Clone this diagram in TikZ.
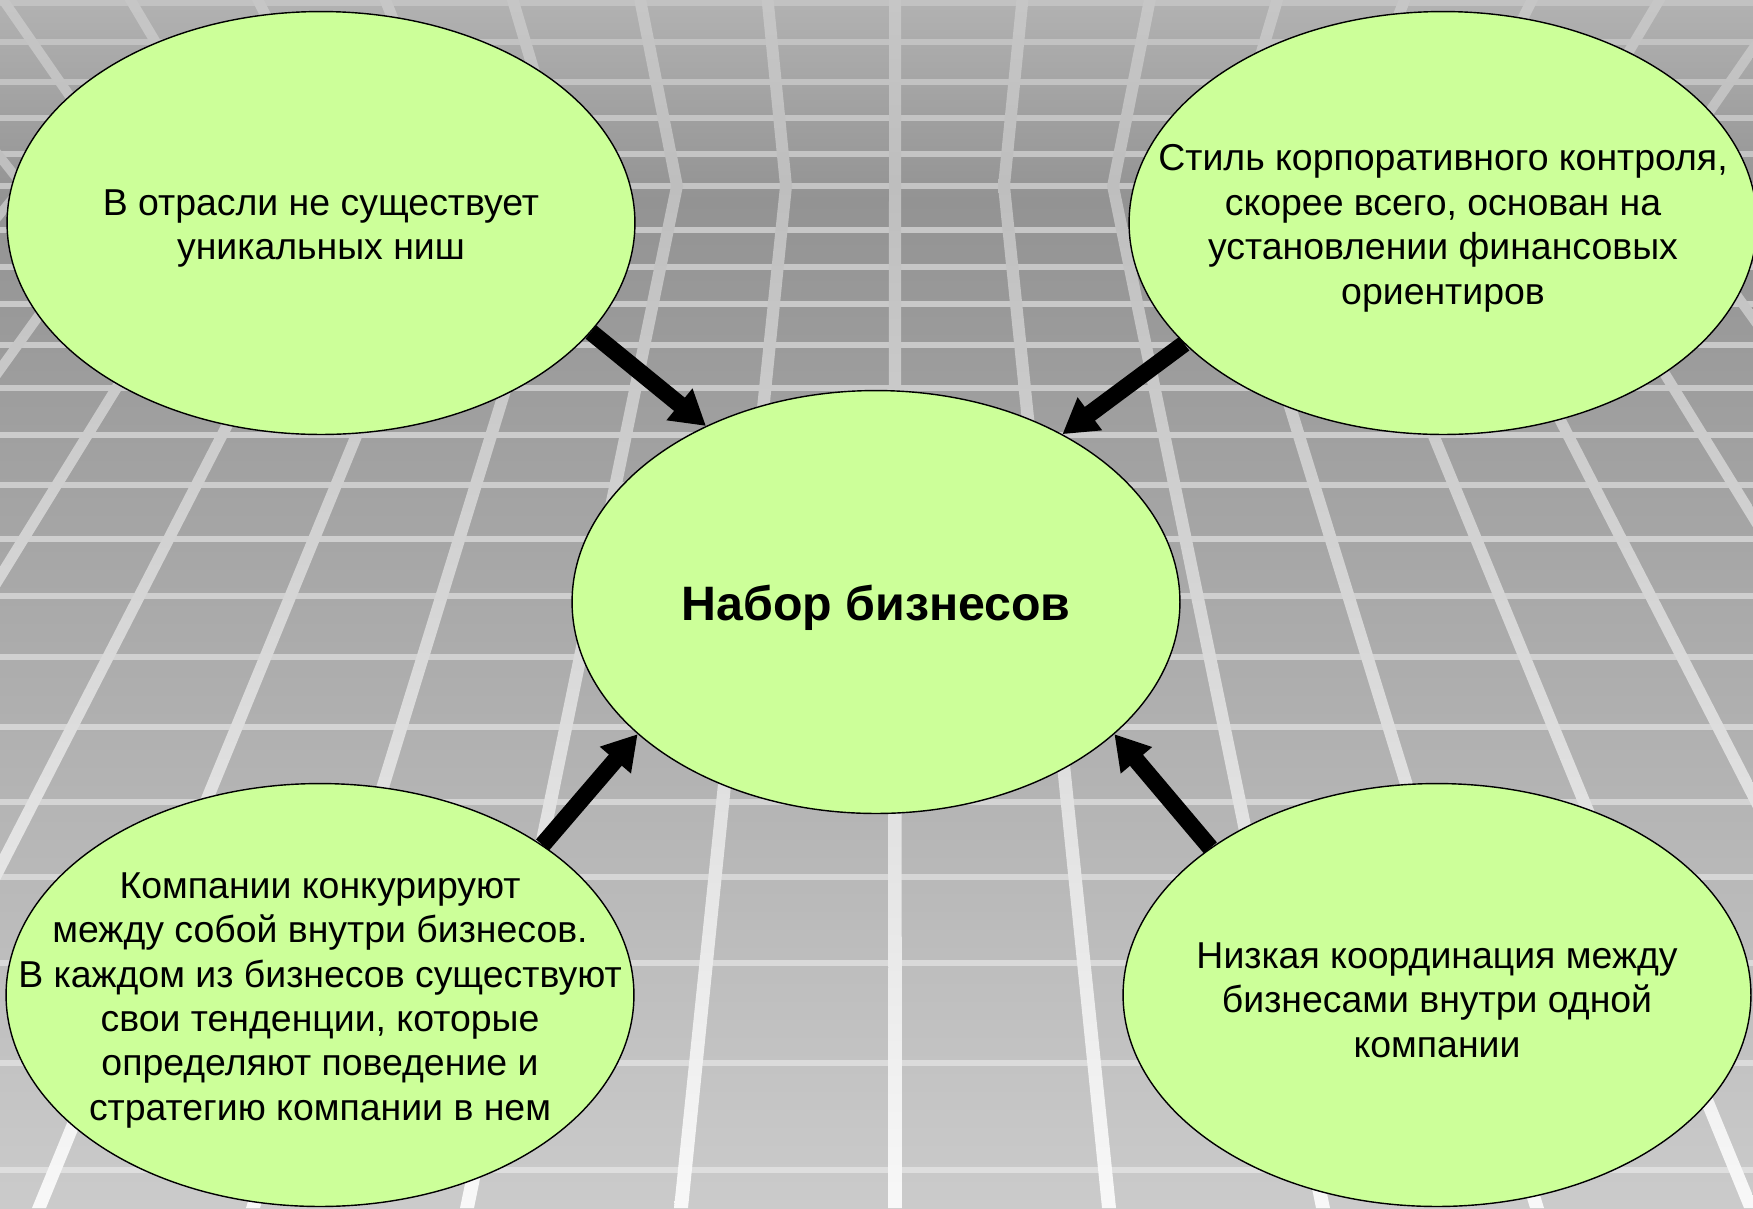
\documentclass[tikz,border=0pt]{standalone}
\usepackage{fontspec}
\setmainfont{Liberation Sans}
\usetikzlibrary{arrows.meta, shapes.geometric}
\definecolor{bubble}{HTML}{CCFF99}
\definecolor{bgtop}{HTML}{B2B2B2}
\definecolor{bgdark}{HTML}{939393}
\definecolor{bgbot}{HTML}{CBCBCB}
\definecolor{railtop}{HTML}{C6C6C6}
\definecolor{railmid}{HTML}{BEBEBE}
\definecolor{railbot}{HTML}{F8F8F8}

\begin{document}
\begin{tikzpicture}[
  x=0.02cm, y=-0.02cm,
  >={Triangle[length=19.5pt, width=22pt]},
  idea/.style={
    ellipse, draw=black, line width=0.8pt, fill=bubble,
    minimum width=12.56cm, minimum height=8.46cm, inner sep=0pt
  },
  hubidea/.style={idea, minimum width=12.16cm},
  idtext/.style={font=\fontsize{21.3}{25.3}\selectfont, align=center,
    inner sep=0pt, yshift=-3pt},
  hubtext/.style={font=\fontsize{27.5}{33}\selectfont\bfseries, inner sep=0pt},
  arr/.style={->, line width=9.7pt, black},
  hline/.style={line width=3pt},
]

\useasboundingbox (0,0) rectangle (1753,1208);

% =============================================
% Background (grid floor)
% =============================================
\begin{scope}
\clip (0,0) rectangle (1753,1208);
\shade[top color=bgtop, bottom color=bgdark] (0,0) rectangle (1753,200);
\shade[top color=bgdark, bottom color=bgbot] (0,200) rectangle (1753,1208);

% horizontal lines
\foreach \y [evaluate=\y as \lv using {int(76+12*\y/1208)}] in
  {3,42,82,118,154,186,230,267,304,345,388,435,485,539,596,657,727,802,877,963,1063,1170}
  \draw[hline, white!\lv!black] (0,\y) -- (1753,\y);

% rails towards the vanishing point
\foreach \k in {-9,...,9}{
  \shade[top color=railmid, bottom color=railbot]
    ({895+109*\k-6},186) -- ({895+109*\k+6},186) --
    ({895+214*\k+7},1208) -- ({895+214*\k-7},1208) -- cycle;
  \shade[top color=railtop, bottom color=railmid]
    ({895+127.4*\k-6},0) -- ({895+127.4*\k+6},0) --
    ({895+109*\k+6},186) -- ({895+109*\k-6},186) -- cycle;
}
\end{scope}

% =============================================
% Bubbles
% =============================================
\node[hubidea] (hub) at (876,602) {};
\node[hubtext, anchor=base] (hubtxt) at (876,620) {Набор бизнесов};

\node[idea] (tl) at (321,223) {};
\node[idtext] (tltxt) at (tl)
  {В отрасли не существует\\уникальных ниш};

\node[idea] (tr) at (1443,223) {};
\node[idtext] (trtxt) at (tr)
  {Стиль корпоративного контроля,\\скорее всего, основан на\\установлении финансовых\\ориентиров};

\node[idea] (bl) at (320,995) {};
\node[idtext] (bltxt) at (bl)
  {Компании конкурируют\\между собой внутри бизнесов.\\В каждом из бизнесов существуют\\свои тенденции, которые\\определяют поведение и\\стратегию компании в нем};

\node[idea] (br) at (1437,995) {};
\node[idtext] (brtxt) at (br)
  {Низкая координация между\\бизнесами внутри одной\\компании};

% Arrows
\draw[arr] (tl.-22) -- (hub.134);
\draw[arr] (tr.205) -- (hub.42);
\draw[arr] (bl.34) -- (hub.209);
\draw[arr] (br.147) -- (hub.-29);

\end{tikzpicture}
\end{document}
